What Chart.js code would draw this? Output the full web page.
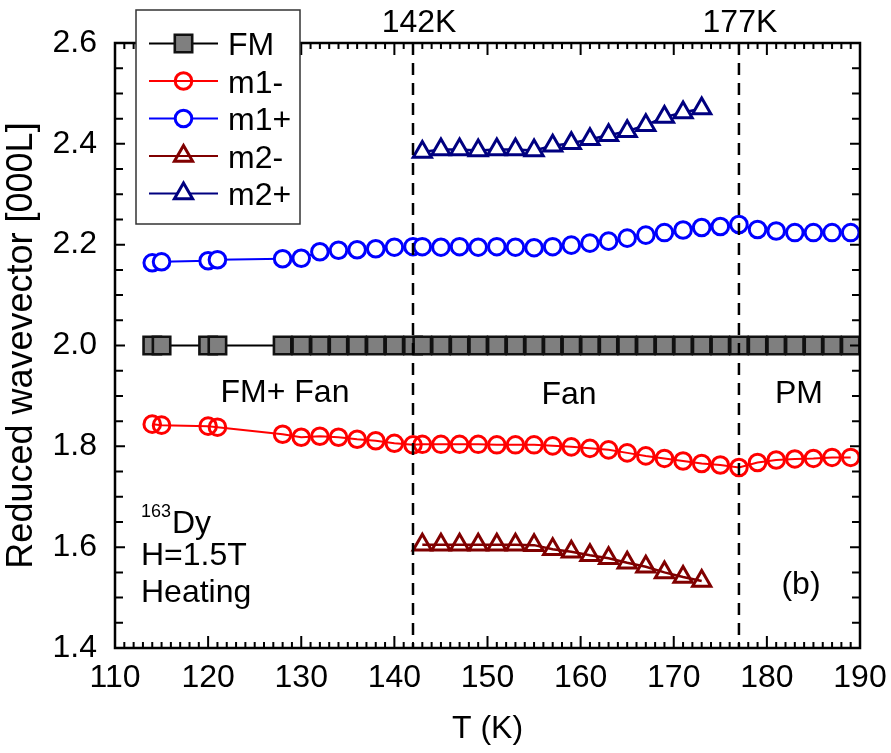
<!DOCTYPE html>
<html>
<head>
<meta charset="utf-8">
<script src="https://cdn.jsdelivr.net/npm/chart.js@4.4.1/dist/chart.umd.min.js"></script>
<style>
html,body{margin:0;padding:0;background:#fff;}
#wrap{width:891px;height:753px;position:relative;}
</style>
</head>
<body>
<div id="wrap"><canvas id="c" width="891" height="753"></canvas></div>
<script>
// ---------- data ----------
const temps = [114,115,120,121,128,130,132,134,136,138,140,142,143,145,147,149,151,153,155,157,159,161,163,165,167,169,171,173,175,177,179,181,183,185,187,189];
const fmValues = [2.0,2.0,2.0,2.0,2.0,2.0,2.0,2.0,2.0,2.0,2.0,2.0,2.0,2.0,2.0,2.0,2.0,2.0,2.0,2.0,2.0,2.0,2.0,2.0,2.0,2.0,2.0,2.0,2.0,2.0,2.0,2.0,2.0,2.0,2.0,2.0];
const m1MinusValues = [1.844,1.842,1.840,1.838,1.824,1.818,1.820,1.818,1.814,1.811,1.806,1.803,1.804,1.804,1.804,1.804,1.803,1.803,1.803,1.801,1.799,1.796,1.793,1.787,1.781,1.776,1.771,1.766,1.763,1.758,1.768,1.773,1.775,1.776,1.778,1.778];
const m1PlusValues = [2.164,2.166,2.168,2.170,2.172,2.173,2.186,2.189,2.190,2.192,2.195,2.196,2.196,2.195,2.196,2.195,2.196,2.195,2.194,2.196,2.199,2.203,2.207,2.213,2.219,2.224,2.229,2.234,2.236,2.240,2.230,2.227,2.224,2.224,2.224,2.224];
const tempsM2 = [143,145,147,149,151,153,155,157,159,161,163,165,167,169,171,173];
const m2MinusValues = [1.605,1.605,1.605,1.605,1.605,1.605,1.604,1.596,1.591,1.584,1.578,1.569,1.561,1.550,1.541,1.533];
const m2PlusValues = [2.384,2.389,2.389,2.387,2.389,2.389,2.387,2.396,2.401,2.409,2.417,2.425,2.437,2.453,2.462,2.470];
const transitionTemps = [142, 177];
const transitionLabels = ['142K', '177K'];
const seriesNames = ['FM', 'm1-', 'm1+', 'm2-', 'm2+'];
const xTickLabels = [110,120,130,140,150,160,170,180,190];
const yTickLabels = [1.4,1.6,1.8,2.0,2.2,2.4,2.6];

const FONT = "Arial, 'Liberation Sans', sans-serif";
const FS = 32;
const pts = (xs, ys) => xs.map((t, i) => ({x: t, y: ys[i]}));

const datasets = [
  {label: seriesNames[0], data: pts(temps, fmValues), borderColor:'#000', backgroundColor:'#808080',
   pointStyle:'rect', pointRadius:12.3, pointBorderWidth:2.6, pointBackgroundColor:'#7f7f7f', pointBorderColor:'#111', borderWidth:2},
  {label: seriesNames[1], data: pts(temps, m1MinusValues), borderColor:'#ff0000', backgroundColor:'rgba(0,0,0,0)',
   pointStyle:'circle', pointRadius:8.3, pointBorderWidth:3, pointBackgroundColor:'rgba(0,0,0,0)', pointBorderColor:'#ff0000', borderWidth:2},
  {label: seriesNames[2], data: pts(temps, m1PlusValues), borderColor:'#0000ff', backgroundColor:'#fff',
   pointStyle:'circle', pointRadius:8.3, pointBorderWidth:3, pointBackgroundColor:'#ffffff', pointBorderColor:'#0000ff', borderWidth:2},
  {label: seriesNames[3], data: pts(tempsM2, m2MinusValues), borderColor:'#800000', backgroundColor:'rgba(0,0,0,0)',
   pointStyle:'triangle', pointRadius:10.5, pointBorderWidth:3, pointBackgroundColor:'rgba(0,0,0,0)', pointBorderColor:'#800000', borderWidth:2.5},
  {label: seriesNames[4], data: pts(tempsM2, m2PlusValues), borderColor:'#000080', backgroundColor:'#fff',
   pointStyle:'triangle', pointRadius:10.5, pointBorderWidth:3, pointBackgroundColor:'#ffffff', pointBorderColor:'#000080', borderWidth:2.5}
];
datasets.forEach(d => { d.showLine = true; d.fill = false; d.tension = 0; d.pointHoverRadius = d.pointRadius; d.clip = false; });

const deco = {
  id: 'deco',
  afterDatasetsDraw(chart) {
    const {ctx, chartArea: a, scales: {x, y}} = chart;
    ctx.save();
    ctx.strokeStyle = '#000';
    ctx.lineWidth = 2.5;
    ctx.setLineDash([12, 8]);
    transitionTemps.forEach(t => {
      const px = x.getPixelForValue(t);
      ctx.beginPath(); ctx.moveTo(px, a.top); ctx.lineTo(px, a.bottom); ctx.stroke();
    });
    ctx.setLineDash([]);
    ctx.lineWidth = 2;
    ctx.beginPath();
    for (let t = 110; t <= 190; t++) {
      const px = x.getPixelForValue(t);
      const len = (t % 10 === 0) ? 12 : 6;
      ctx.moveTo(px, a.bottom); ctx.lineTo(px, a.bottom - len);
      ctx.moveTo(px, a.top); ctx.lineTo(px, a.top + len);
    }
    for (let k = 0; k <= 24; k++) {
      const py = y.getPixelForValue(1.4 + k * 0.05);
      const len = (k % 4 === 0) ? 10 : 8;
      ctx.moveTo(a.left, py); ctx.lineTo(a.left + len, py);
      ctx.moveTo(a.right, py); ctx.lineTo(a.right - len, py);
    }
    ctx.stroke();
    ctx.lineWidth = 2.5;
    ctx.strokeRect(a.left, a.top, a.right - a.left, a.bottom - a.top);
    ctx.restore();
  },
  afterDraw(chart) {
    const {ctx, scales: {x, y}} = chart;
    ctx.save();
    ctx.fillStyle = '#000';
    ctx.textBaseline = 'alphabetic';
    ctx.font = FS + 'px ' + FONT;
    ctx.textAlign = 'center';
    transitionLabels.forEach((s, i) => {
      ctx.fillText(s, x.getPixelForValue(transitionTemps[i]) + (i === 0 ? 6 : 1), 32);
    });
    ctx.fillText('FM+ Fan', 285, 402);
    ctx.fillText('Fan', 569, 404);
    ctx.fillText('PM', 799, 403);
    ctx.fillText('(b)', 801, 594);
    ctx.textAlign = 'left';
    ctx.font = '18px ' + FONT;
    ctx.fillText('163', 141, 517);
    ctx.font = FS + 'px ' + FONT;
    ctx.fillText('Dy', 172, 533);
    ctx.fillText('H=1.5T', 141, 565);
    ctx.fillText('Heating', 141, 602);

    // legend
    ctx.fillStyle = '#fff';
    ctx.fillRect(136, 10, 164, 214);
    ctx.strokeStyle = '#333';
    ctx.lineWidth = 1.5;
    ctx.strokeRect(136, 10, 164, 214);
    chart.data.datasets.forEach((d, i) => {
      const ly = 43.5 + i * 37.5;
      ctx.strokeStyle = d.borderColor;
      ctx.lineWidth = 2;
      ctx.beginPath(); ctx.moveTo(149, ly); ctx.lineTo(218, ly); ctx.stroke();
      ctx.fillStyle = d.pointBackgroundColor;
      ctx.strokeStyle = d.pointBorderColor;
      ctx.lineWidth = d.pointBorderWidth;
      Chart.helpers.drawPoint(ctx, {pointStyle: d.pointStyle, radius: d.pointRadius, borderWidth: d.pointBorderWidth, rotation: 0}, 183.5, ly);
      ctx.fillStyle = '#000';
      ctx.font = FS + 'px ' + FONT;
      ctx.textAlign = 'left';
      ctx.fillText(d.label, 228, ly + 11.5);
    });
    ctx.restore();
  }
};

new Chart(document.getElementById('c'), {
  type: 'scatter',
  data: {datasets},
  options: {
    responsive: false,
    animation: false,
    events: [],
    layout: {padding: {left: 0, right: 31, top: 43, bottom: 0}},
    plugins: {legend: {display: false}, tooltip: {enabled: false}},
    scales: {
      x: {
        type: 'linear', min: 110, max: 190,
        grid: {display: false, drawTicks: false}, border: {display: false},
        afterBuildTicks: s => { s.ticks = xTickLabels.map(v => ({value: v})); },
        ticks: {padding: 11, maxRotation: 0, autoSkip: false, color: '#000', font: {size: FS, family: FONT}},
        title: {display: true, text: 'T (K)', color: '#000', font: {size: FS, family: FONT}, padding: {top: 0, bottom: 5}},
        afterFit: s => { s.height = 105; s.paddingLeft = 0; s.paddingRight = 0; }
      },
      y: {
        type: 'linear', min: 1.4, max: 2.6,
        grid: {display: false, drawTicks: false}, border: {display: false},
        afterBuildTicks: s => { s.ticks = yTickLabels.map(v => ({value: v})); },
        ticks: {padding: 18, color: '#000', font: {size: FS, family: FONT}, callback: v => Number(v).toFixed(1)},
        title: {display: true, text: 'Reduced wavevector [000L]', color: '#000', font: {size: 36, family: FONT}, padding: {top: 0, bottom: 0}},
        afterFit: s => { s.width = 115; s.paddingTop = 0; s.paddingBottom = 0; }
      }
    }
  },
  plugins: [deco]
});
</script>
</body>
</html>
